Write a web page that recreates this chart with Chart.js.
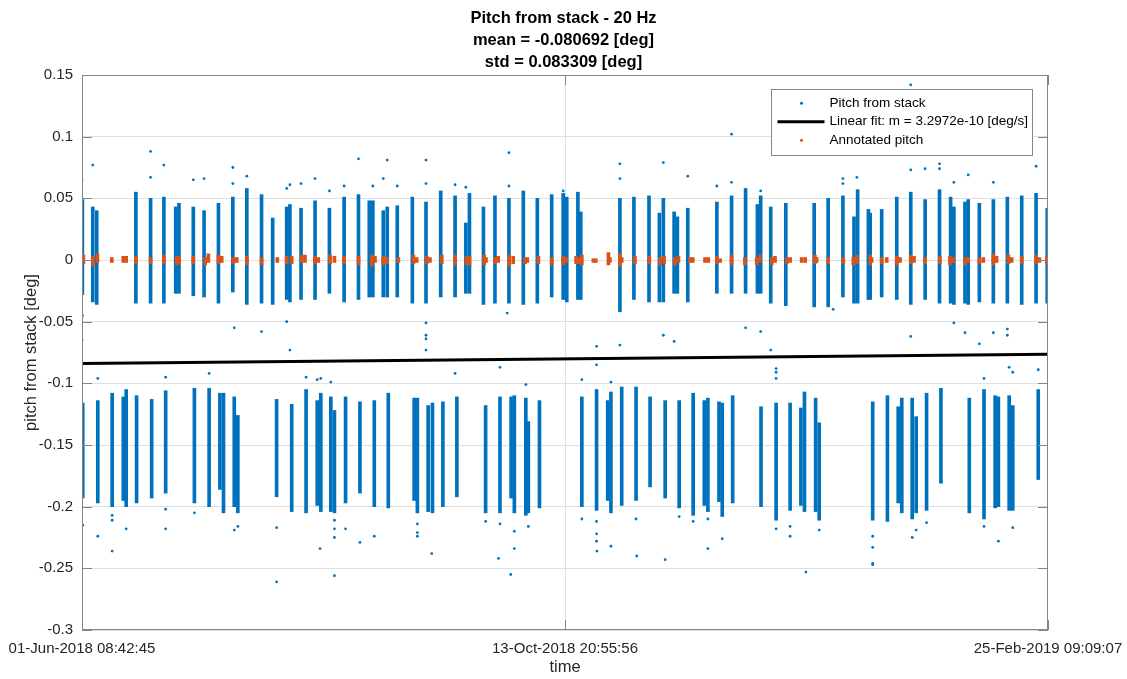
<!DOCTYPE html>
<html>
<head>
<meta charset="utf-8">
<title>Pitch from stack - 20 Hz</title>
<script src="https://cdn.jsdelivr.net/npm/chart.js@4.4.1/dist/chart.umd.min.js"></script>
<style>
  html, body { margin: 0; padding: 0; background: #fff; }
  #wrap { width: 1127px; height: 679px; }
</style>
</head>
<body>
<div id="wrap"><canvas id="chart" width="1127" height="679"></canvas></div>
<script>
// x values are days since 01-Jun-2018 08:42:45
const xTicks = [0, 134.5092, 269.0183];
const xTickLabels = ["01-Jun-2018 08:42:45", "13-Oct-2018 20:55:56", "25-Feb-2019 09:09:07"];

// dense runs of "pitch from stack" samples: [day, lowest, highest]
const upperStripes = [
  [0.1,-0.028,0.049],[3.0,-0.034,0.043],[4.1,-0.036,0.040],[15.0,-0.035,0.055],[19.1,-0.035,0.050],
  [22.8,-0.035,0.051],[26.1,-0.027,0.043],[27.0,-0.027,0.046],[31.0,-0.029,0.043],[34.0,-0.030,0.040],
  [38.0,-0.035,0.046],[42.0,-0.026,0.051],[45.9,-0.036,0.058],[50.0,-0.035,0.053],[53.1,-0.036,0.034],
  [57.0,-0.032,0.043],[57.9,-0.034,0.045],[61.0,-0.032,0.042],[64.9,-0.032,0.048],[68.9,-0.027,0.042],
  [73.0,-0.034,0.051],[77.0,-0.032,0.053],[80.0,-0.030,0.048],[81.0,-0.030,0.048],[83.9,-0.030,0.040],
  [85.0,-0.030,0.043],[87.8,-0.030,0.044],[92.0,-0.035,0.051],[95.8,-0.035,0.047],[99.9,-0.030,0.056],
  [103.9,-0.030,0.052],[106.9,-0.027,0.030],[107.9,-0.027,0.054],[111.8,-0.036,0.043],[115.0,-0.035,0.052],
  [118.9,-0.035,0.050],[122.9,-0.036,0.056],[126.8,-0.035,0.050],[130.8,-0.030,0.053],[134.0,-0.032,0.054],
  [135.0,-0.034,0.051],[138.1,-0.032,0.055],[138.9,-0.032,0.039],[149.8,-0.042,0.050],[153.7,-0.032,0.051],
  [157.9,-0.034,0.052],[160.8,-0.034,0.038],[161.9,-0.034,0.050],[164.9,-0.027,0.039],[165.8,-0.027,0.035],
  [168.7,-0.034,0.042],[176.8,-0.027,0.047],[180.9,-0.027,0.052],[184.8,-0.027,0.058],[188.1,-0.027,0.045],
  [189.0,-0.027,0.052],[191.8,-0.035,0.043],[196.0,-0.037,0.046],[203.9,-0.038,0.046],[207.8,-0.038,0.050],
  [211.9,-0.030,0.052],[215.0,-0.035,0.035],[216.0,-0.035,0.057],[219.0,-0.032,0.041],[219.5,-0.032,0.038],
  [222.7,-0.030,0.041],[226.9,-0.032,0.051],[230.8,-0.036,0.055],[234.8,-0.032,0.049],[238.8,-0.035,0.057],
  [241.9,-0.035,0.051],[242.8,-0.036,0.043],[245.9,-0.035,0.047],[246.8,-0.036,0.049],[249.9,-0.034,0.046],
  [253.8,-0.035,0.049],[257.7,-0.035,0.051],[261.7,-0.036,0.052],[265.7,-0.035,0.054],[268.8,-0.035,0.042]
];

const lowerStripes = [
  [0.2,-0.193,-0.116],[4.4,-0.197,-0.114],[8.4,-0.200,-0.108],[11.5,-0.195,-0.111],[12.3,-0.200,-0.105],
  [15.2,-0.197,-0.110],[19.4,-0.193,-0.113],[23.3,-0.189,-0.106],[31.3,-0.197,-0.104],[35.4,-0.200,-0.104],
  [38.4,-0.186,-0.108],[39.4,-0.205,-0.108],[42.4,-0.200,-0.111],[43.4,-0.205,-0.126],[54.2,-0.192,-0.113],
  [58.4,-0.204,-0.117],[62.4,-0.205,-0.105],[65.5,-0.199,-0.114],[66.5,-0.204,-0.108],[69.3,-0.204,-0.111],
  [70.3,-0.205,-0.122],[73.4,-0.197,-0.111],[77.4,-0.189,-0.115],[81.4,-0.200,-0.114],[85.3,-0.201,-0.108],
  [92.5,-0.195,-0.112],[93.4,-0.205,-0.112],[96.4,-0.204,-0.118],[97.6,-0.205,-0.116],[100.5,-0.200,-0.115],
  [104.4,-0.192,-0.111],[112.4,-0.205,-0.118],[116.4,-0.205,-0.111],[119.5,-0.193,-0.111],[120.4,-0.205,-0.110],
  [123.6,-0.207,-0.112],[124.3,-0.205,-0.131],[127.4,-0.201,-0.114],[139.2,-0.200,-0.111],[143.3,-0.203,-0.105],
  [146.4,-0.195,-0.114],[147.3,-0.205,-0.107],[150.3,-0.199,-0.103],[154.3,-0.195,-0.103],[158.2,-0.184,-0.111],
  [162.4,-0.193,-0.114],[166.3,-0.201,-0.114],[170.2,-0.207,-0.108],[173.3,-0.199,-0.114],[174.3,-0.204,-0.112],
  [177.4,-0.196,-0.115],[178.3,-0.208,-0.116],[181.2,-0.197,-0.110],[189.1,-0.200,-0.119],[193.3,-0.211,-0.116],
  [197.2,-0.203,-0.116],[200.2,-0.199,-0.120],[201.2,-0.204,-0.107],[204.3,-0.204,-0.112],[205.3,-0.211,-0.132],
  [220.2,-0.211,-0.115],[224.3,-0.212,-0.110],[227.3,-0.197,-0.119],[228.3,-0.205,-0.112],[231.2,-0.210,-0.112],
  [232.3,-0.205,-0.127],[235.2,-0.203,-0.108],[239.2,-0.181,-0.104],[247.1,-0.205,-0.112],[251.2,-0.210,-0.105],
  [254.3,-0.201,-0.110],[255.2,-0.200,-0.111],[258.2,-0.203,-0.110],[259.2,-0.203,-0.118],[266.3,-0.178,-0.105]
];

// isolated samples outside the dense runs: [day, pitch]
const outliers = [
  [0.0,0.065],[3.0,0.077],[19.1,0.088],[19.1,0.067],[22.8,0.077],[31.0,0.065],[34.0,0.066],[42.0,0.075],
  [42.0,0.062],[45.9,0.068],[57.0,0.058],[57.9,0.061],[61.0,0.062],[64.9,0.066],[68.9,0.056],[73.0,0.060],
  [77.0,0.082],[81.0,0.060],[83.9,0.066],[85.0,0.081],[87.8,0.060],[95.8,0.081],[95.8,0.062],[103.9,0.061],
  [106.9,0.059],[118.9,0.087],[118.9,0.060],[134.0,0.056],[149.8,0.078],[149.8,0.066],[161.9,0.079],[168.7,0.068],
  [176.8,0.060],[180.9,0.102],[180.9,0.063],[189.0,0.056],[211.9,0.066],[211.9,0.062],[215.8,0.067],[230.8,0.142],
  [230.8,0.073],[234.8,0.074],[238.8,0.078],[238.8,0.074],[242.8,0.063],[246.8,0.069],[253.8,0.063],[265.7,0.076],
  [0.1,-0.045],[0.0,-0.065],[42.4,-0.055],[50.0,-0.058],[57.9,-0.073],[57.0,-0.050],[95.8,-0.051],[95.8,-0.061],
  [95.8,-0.064],[95.8,-0.073],[118.4,-0.043],[143.3,-0.070],[149.8,-0.069],[161.9,-0.061],[164.9,-0.066],[184.8,-0.055],
  [189.0,-0.058],[191.8,-0.073],[230.8,-0.062],[242.8,-0.051],[245.9,-0.059],[249.9,-0.068],[253.8,-0.059],[257.7,-0.056],
  [257.7,-0.061],[209.2,-0.040],
  [4.4,-0.096],[23.3,-0.095],[35.4,-0.092],[62.4,-0.095],[65.5,-0.097],[66.5,-0.096],[69.3,-0.099],[103.9,-0.092],
  [116.4,-0.087],[123.6,-0.101],[139.2,-0.097],[143.3,-0.085],[147.3,-0.099],[193.3,-0.088],[193.3,-0.091],[193.3,-0.096],
  [251.2,-0.096],[258.2,-0.087],[259.2,-0.091],[266.3,-0.089],
  [0.2,-0.215],[4.4,-0.224],[8.4,-0.207],[8.4,-0.211],[8.4,-0.236],[12.3,-0.218],[23.3,-0.202],[23.3,-0.218],
  [31.3,-0.205],[42.4,-0.219],[43.4,-0.216],[54.2,-0.217],[54.2,-0.261],[66.3,-0.234],[70.3,-0.211],[70.3,-0.218],
  [70.3,-0.225],[70.3,-0.256],[73.4,-0.218],[77.4,-0.229],[81.4,-0.224],[93.4,-0.214],[93.4,-0.221],[93.4,-0.224],
  [97.4,-0.238],[112.4,-0.212],[116.0,-0.242],[116.4,-0.214],[119.4,-0.255],[120.4,-0.220],[120.4,-0.234],[124.3,-0.216],
  [139.2,-0.210],[143.3,-0.212],[143.3,-0.222],[143.3,-0.228],[143.4,-0.236],[147.3,-0.232],[154.3,-0.210],[154.5,-0.240],
  [162.4,-0.243],[166.3,-0.208],[170.2,-0.212],[174.3,-0.210],[174.3,-0.234],[178.3,-0.226],[193.3,-0.218],[197.2,-0.216],
  [197.2,-0.224],[201.6,-0.253],[205.3,-0.219],[220.2,-0.224],[220.2,-0.233],[220.2,-0.246],[220.2,-0.247],[231.2,-0.225],
  [232.3,-0.219],[235.2,-0.213],[251.2,-0.216],[255.2,-0.228],[259.2,-0.217]
];

// annotated pitch clusters near zero: [day, lowest, highest]
const annotated = [
  [0.4,-0.003,0.004],[3.1,-0.005,0.003],[4.3,-0.002,0.005],[8.3,-0.002,0.002],[11.5,-0.002,0.003],[12.3,-0.002,0.003],
  [15.0,-0.003,0.003],[19.1,-0.003,0.002],[22.8,-0.003,0.004],[26.4,-0.004,0.003],[27.0,-0.003,0.003],[31.0,-0.003,0.003],
  [34.3,-0.004,0.002],[35.2,-0.002,0.005],[38.0,-0.003,0.004],[38.9,-0.002,0.003],[42.1,-0.003,0.002],[43.1,-0.002,0.002],
  [45.9,-0.004,0.003],[50.0,-0.004,0.002],[54.4,-0.002,0.002],[57.0,-0.003,0.003],[58.4,-0.003,0.003],[61.2,-0.002,0.004],
  [62.1,-0.002,0.004],[64.9,-0.003,0.003],[65.8,-0.002,0.002],[69.1,-0.003,0.004],[70.3,-0.002,0.003],[73.0,-0.003,0.003],
  [77.0,-0.004,0.003],[80.7,-0.005,0.004],[81.6,-0.002,0.003],[83.9,-0.004,0.003],[85.0,-0.003,0.002],[88.1,-0.002,0.002],
  [92.3,-0.003,0.004],[93.2,-0.002,0.002],[96.0,-0.003,0.003],[96.9,-0.002,0.002],[100.2,-0.003,0.004],[103.9,-0.004,0.004],
  [107.1,-0.004,0.003],[107.9,-0.004,0.003],[112.0,-0.004,0.004],[112.5,-0.002,0.002],[115.0,-0.003,0.002],[115.9,-0.002,0.003],
  [119.0,-0.005,0.004],[120.1,-0.003,0.003],[123.4,-0.003,0.002],[124.0,-0.002,0.002],[127.1,-0.003,0.003],[130.8,-0.004,0.002],
  [134.0,-0.004,0.003],[134.8,-0.002,0.002],[137.6,-0.003,0.003],[138.2,-0.003,0.002],[139.2,-0.004,0.004],[142.4,-0.002,0.001],
  [143.1,-0.002,0.001],[146.6,-0.004,0.006],[147.0,-0.002,0.002],[149.8,-0.005,0.005],[150.3,-0.002,0.002],[154.0,-0.003,0.003],
  [158.0,-0.003,0.003],[161.0,-0.004,0.002],[162.1,-0.003,0.003],[165.1,-0.004,0.002],[166.1,-0.002,0.003],[169.3,-0.002,0.002],
  [170.1,-0.002,0.002],[173.5,-0.002,0.002],[174.4,-0.002,0.002],[176.8,-0.003,0.003],[177.7,-0.002,0.001],[180.9,-0.004,0.004],
  [184.6,-0.004,0.002],[187.9,-0.004,0.002],[188.8,-0.002,0.004],[192.1,-0.004,0.002],[193.0,-0.002,0.003],[196.3,-0.003,0.002],
  [197.2,-0.002,0.002],[200.4,-0.002,0.002],[201.4,-0.002,0.002],[204.1,-0.003,0.004],[204.6,-0.002,0.002],[207.8,-0.003,0.002],
  [212.0,-0.003,0.002],[214.8,-0.004,0.002],[215.8,-0.003,0.004],[219.5,-0.004,0.004],[219.9,-0.002,0.002],[222.7,-0.003,0.002],
  [224.1,-0.002,0.002],[226.9,-0.004,0.003],[227.8,-0.002,0.002],[230.8,-0.003,0.004],[231.7,-0.002,0.003],[234.8,-0.003,0.002],
  [238.9,-0.003,0.003],[241.7,-0.004,0.003],[242.7,-0.002,0.002],[245.9,-0.004,0.002],[246.8,-0.002,0.002],[249.9,-0.003,0.002],
  [251.0,-0.002,0.002],[253.8,-0.004,0.005],[254.7,-0.002,0.003],[258.0,-0.003,0.004],[258.9,-0.002,0.002],[261.7,-0.003,0.003],
  [265.7,-0.003,0.004],[266.6,-0.002,0.002],[268.7,-0.003,0.003]
];

// linear fit end points: [day, pitch]
const linearFit = [[0, -0.0840], [269.0183, -0.0765]];

const BLUE = "#0072BD";
const ORANGE = "#D95319";
const AXIS_COLOR = "#858585";
const TEXT_COLOR = "#262626";
const FONT = "'Liberation Sans', Arial, Helvetica, sans-serif";

// MATLAB style box, inward tick marks and in-axes legend
const matlabAxes = {
  id: "matlabAxes",
  afterDatasetsDraw(chart) {
    const { ctx, chartArea: a, scales } = chart;
    ctx.save();
    ctx.strokeStyle = AXIS_COLOR;
    ctx.lineWidth = 1;
    ctx.strokeRect(a.left + 0.5, a.top + 0.5, a.right - a.left - 1, a.bottom - a.top - 1);
    ctx.beginPath();
    scales.y.ticks.forEach((t) => {
      const py = Math.round(scales.y.getPixelForValue(t.value)) + 0.5;
      ctx.moveTo(a.left, py); ctx.lineTo(a.left + 10, py);
      ctx.moveTo(a.right, py); ctx.lineTo(a.right - 10, py);
    });
    scales.x.ticks.forEach((t) => {
      const px = Math.round(scales.x.getPixelForValue(t.value)) + 0.5;
      ctx.moveTo(px, a.bottom); ctx.lineTo(px, a.bottom - 10);
      ctx.moveTo(px, a.top); ctx.lineTo(px, a.top + 10);
    });
    ctx.stroke();
    ctx.restore();
  },
  afterDraw(chart) {
    const { ctx, chartArea: a } = chart;
    const ds = chart.data.datasets
      .filter((d) => d.legendKind)
      .sort((p, q) => p.legendOrder - q.legendOrder);
    ctx.save();
    ctx.font = "13.5px " + FONT;
    const textW = Math.max(...ds.map((d) => ctx.measureText(d.label).width));
    const rowH = 18.5;
    const w = 59 + textW + 4;
    const h = ds.length * rowH + 10;
    const x0 = a.right - 16 - w;
    const y0 = a.top + 14;
    ctx.fillStyle = "#fff";
    ctx.fillRect(x0, y0, w, h);
    ctx.strokeStyle = AXIS_COLOR;
    ctx.lineWidth = 1;
    ctx.strokeRect(Math.round(x0) + 0.5, Math.round(y0) + 0.5, Math.round(w), Math.round(h));
    ds.forEach((d, i) => {
      const cy = y0 + 5 + rowH * (i + 0.5);
      if (d.legendKind === "line") {
        ctx.strokeStyle = d.borderColor;
        ctx.lineWidth = 3;
        ctx.beginPath();
        ctx.moveTo(x0 + 7, cy); ctx.lineTo(x0 + 54, cy);
        ctx.stroke();
      } else {
        ctx.fillStyle = d.legendColor;
        ctx.beginPath();
        ctx.arc(x0 + 31, cy, 1.5, 0, Math.PI * 2);
        ctx.fill();
      }
      ctx.fillStyle = "#000";
      ctx.textBaseline = "middle";
      ctx.fillText(d.label, x0 + 59, cy);
    });
    ctx.restore();
  }
};

const ctx = document.getElementById("chart").getContext("2d");

new Chart(ctx, {
  type: "bar",
  data: {
    datasets: [
      {
        type: "bar",
        label: "Annotated pitch",
        legendKind: "dot",
        legendOrder: 3,
        legendColor: ORANGE,
        data: annotated.map((p) => ({ x: p[0], y: [p[1], p[2]] })),
        backgroundColor: ORANGE,
        barThickness: 3,
        grouped: false,
        borderWidth: 0,
        order: 0
      },
      {
        type: "line",
        label: "Linear fit: m = 3.2972e-10 [deg/s]",
        legendKind: "line",
        legendOrder: 2,
        data: linearFit.map((p) => ({ x: p[0], y: p[1] })),
        borderColor: "#000",
        borderWidth: 3,
        pointRadius: 0,
        fill: false,
        order: 1
      },
      {
        type: "bar",
        label: "Pitch from stack",
        legendKind: "dot",
        legendOrder: 1,
        legendColor: BLUE,
        data: upperStripes.concat(lowerStripes).map((p) => ({ x: p[0], y: [p[1], p[2]] })),
        backgroundColor: BLUE,
        barThickness: 3,
        grouped: false,
        borderWidth: 0,
        order: 2
      },
      {
        type: "scatter",
        label: "Pitch from stack (outliers)",
        data: outliers.map((p) => ({ x: p[0], y: p[1] })),
        backgroundColor: BLUE,
        borderWidth: 0,
        pointRadius: 1.4,
        order: 3
      }
    ]
  },
  options: {
    responsive: false,
    animation: false,
    devicePixelRatio: 1,
    layout: { padding: 0 },
    plugins: {
      legend: { display: false },
      tooltip: { enabled: false },
      title: {
        display: true,
        text: ["Pitch from stack - 20 Hz", "mean = -0.080692 [deg]", "std = 0.083309 [deg]"],
        color: "#000",
        font: { family: FONT, size: 16.5, weight: "bold", lineHeight: 22 / 16.5 },
        padding: { top: 7, bottom: 2 }
      }
    },
    scales: {
      x: {
        type: "linear",
        min: xTicks[0],
        max: xTicks[2],
        offset: false,
        afterBuildTicks: (scale) => {
          scale.ticks = xTicks.map((v) => ({ value: v }));
        },
        afterFit: (scale) => {
          scale.height = 49;
          // leave room on the right like the MATLAB axes
          scale.paddingLeft = 0;
          scale.paddingRight = 79;
        },
        ticks: {
          autoSkip: false,
          maxRotation: 0,
          padding: 10,
          color: TEXT_COLOR,
          font: { family: FONT, size: 15 },
          callback: (v, i) => xTickLabels[i]
        },
        grid: {
          offset: false,
          drawTicks: false,
          color: (c) => (c.index === 1 ? "#dfdfdf" : "rgba(0,0,0,0)")
        },
        border: { display: false },
        title: {
          display: true,
          text: "time",
          color: TEXT_COLOR,
          font: { family: FONT, size: 16.5 },
          padding: { top: 0, bottom: 2 }
        }
      },
      y: {
        min: -0.3,
        max: 0.15,
        afterFit: (scale) => { scale.width = 82; },
        ticks: {
          stepSize: 0.05,
          padding: 9,
          color: TEXT_COLOR,
          font: { family: FONT, size: 15 },
          callback: (v) => String(Number(v.toFixed(2)))
        },
        grid: { drawTicks: false, color: "#dfdfdf" },
        border: { display: false },
        title: {
          display: true,
          text: "pitch from stack [deg]",
          color: TEXT_COLOR,
          font: { family: FONT, size: 16.5 },
          padding: { top: 22, bottom: 0 }
        }
      }
    }
  },
  plugins: [matlabAxes]
});
</script>
</body>
</html>
